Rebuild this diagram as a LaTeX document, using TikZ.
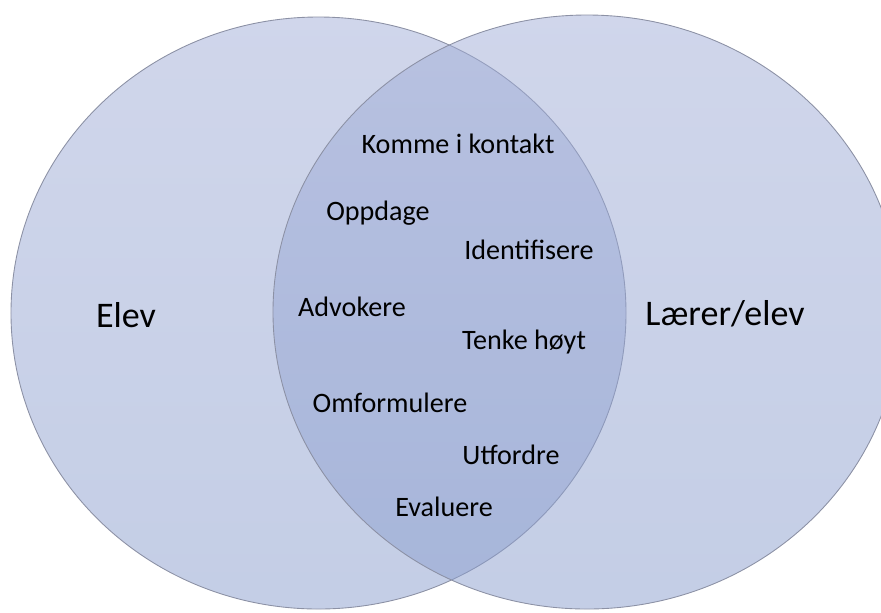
\documentclass[tikz,border=0pt]{standalone}
\usepackage{fontspec}
\setmainfont{Carlito}
\usetikzlibrary{shapes.geometric}
\definecolor{vennTop}{RGB}{161,173,215}
\definecolor{vennBot}{RGB}{137,157,205}
\definecolor{vennLine}{RGB}{140,145,165}

\begin{document}
\begin{tikzpicture}[
  x=0.2mm, y=-0.2mm,
  set/.style={ellipse, draw=vennLine, line width=0.5pt, top color=vennTop,
              bottom color=vennBot, fill opacity=0.5, inner sep=0pt, outer sep=0pt},
  setname/.style={font=\fontsize{20.5}{24}\selectfont, anchor=base},
  act/.style={font=\fontsize{16}{19}\selectfont, anchor=base}
]
\useasboundingbox (0,0) rectangle (881,612);
\clip (0,0) rectangle (881,612);

% the two sets
\node[set, minimum width=12.3cm, minimum height=11.84cm] (elev) at (318.5,313) {};
\node[set, minimum width=12.56cm, minimum height=11.88cm] (laerer) at (587,312) {};

\node[setname] (elevtxt) at (126,327) {Elev};
\node[setname] (laerertxt) at (725,325) {Lærer/elev};

% shared activities
\node[act] (kontakt) at (458,153) {Komme i kontakt};
\node[act] (oppdage) at (378,220) {Oppdage};
\node[act] (ident) at (529,259) {Identifisere};
\node[act] (advok) at (352,316) {Advokere};
\node[act] (tenke) at (524,349) {Tenke høyt};
\node[act] (omform) at (390,412) {Omformulere};
\node[act] (utford) at (511,464) {Utfordre};
\node[act] (evalu) at (444,516) {Evaluere};

\end{tikzpicture}
\end{document}
